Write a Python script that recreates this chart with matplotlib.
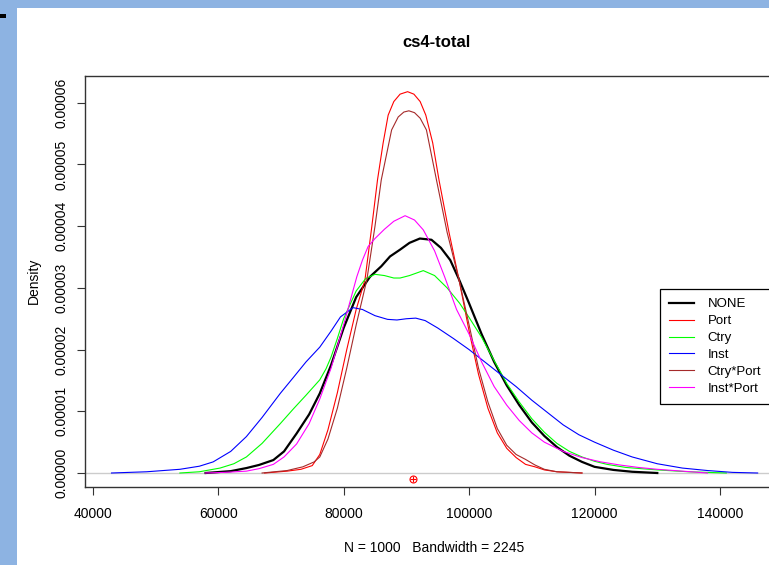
import matplotlib
matplotlib.use("Agg")
import matplotlib.pyplot as plt
from matplotlib.patches import Rectangle
import numpy as np

plt.rcParams['font.family'] = ['Liberation Sans', 'DejaVu Sans']

# density curves (x in units, y density * 1e6)
none_x = [58000, 62000, 64500, 66500, 68800, 70500, 72500, 74500, 76200, 78000, 80000, 82000,
          84200, 86000, 87400, 89000, 90500, 92150, 94000, 95500, 97000, 98300, 100000, 102000,
          104000, 106000, 108000, 110000, 112000, 114000, 116000, 118000, 120000, 123000, 126000, 130000]
none_y = [0, 0.3, 0.8, 1.3, 2.1, 3.5, 6.4, 9.5, 12.9, 17.5, 23.5, 28.5,
          31.8, 33.5, 35.1, 36.2, 37.3, 38.0, 37.8, 36.5, 34.5, 31.6, 27.5, 22.5,
          18.0, 14.2, 11.0, 8.2, 6.0, 4.2, 2.8, 1.8, 1.0, 0.5, 0.2, 0]

port_x = [67400, 71000, 73200, 75000, 76200, 77500, 79000, 80500, 82000, 83400, 84500, 85400,
          86300, 87100, 88000, 89000, 90200, 91200, 92200, 93100, 94200, 95200, 96800, 98400,
          100000, 101500, 103000, 104500, 106000, 107500, 109000, 110500, 112000, 114000, 118000]
port_y = [0, 0.3, 0.6, 1.2, 3.0, 7.0, 13.0, 20.0, 26.5, 31.3, 40.0, 47.5,
          53.5, 58.0, 60.2, 61.4, 61.8, 61.4, 60.2, 58.0, 53.5, 47.5, 39.0, 31.3,
          23.0, 16.0, 10.5, 6.5, 4.0, 2.5, 1.4, 1.0, 0.5, 0.2, 0]

ctry_x = [53900, 57000, 60300, 62500, 64500, 67000, 69900, 72000, 74000, 76200, 77200, 78000,
          79000, 80000, 82000, 83500, 85000, 86500, 88000, 89000, 90500, 92700, 94500, 96500,
          98500, 100000, 102000, 104000, 106000, 108000, 110000, 112000, 114000, 116000, 118000,
          120000, 122000, 125000, 130000, 135000, 141000]
ctry_y = [0, 0.2, 0.8, 1.5, 2.6, 4.8, 8.0, 10.4, 12.6, 15.1, 16.9, 18.8,
          21.8, 25.0, 29.5, 31.5, 32.2, 32.0, 31.6, 31.6, 32.0, 32.8, 32.0, 30.0,
          27.5, 25.2, 22.0, 18.2, 14.5, 11.5, 8.8, 6.6, 4.8, 3.5, 2.6,
          1.9, 1.4, 0.9, 0.5, 0.2, 0]

inst_x = [43000, 48600, 53900, 57000, 59200, 62000, 64500, 67000, 69900, 72000, 74000, 76200,
          78000, 79500, 81500, 83000, 85000, 87000, 88500, 90000, 91500, 93000, 95000, 97500,
          100000, 102500, 105000, 107500, 110000, 112500, 115000, 117500, 120000, 123000, 126000,
          130000, 134000, 138000, 142000, 146000]
inst_y = [0, 0.2, 0.6, 1.1, 1.8, 3.5, 5.9, 9.0, 12.9, 15.5, 18.0, 20.4,
          23.0, 25.3, 26.8, 26.5, 25.5, 24.9, 24.8, 25.0, 25.1, 24.7, 23.5, 21.8,
          20.0, 18.0, 16.0, 14.0, 11.8, 9.8, 7.8, 6.2, 5.0, 3.7, 2.6,
          1.5, 0.8, 0.4, 0.1, 0]

ctryport_x = [67000, 71000, 73500, 75300, 76200, 77500, 79000, 80500, 82000, 83700, 85000, 86000,
              87650, 88700, 89600, 90400, 91300, 92200, 93200, 94800, 96500, 98400, 100000, 101500,
              103000, 104500, 106000, 107500, 109000, 110500, 112000, 114000, 118000]
ctryport_y = [0, 0.4, 1.0, 1.8, 2.6, 5.5, 10.5, 17.0, 24.0, 31.3, 40.0, 47.5,
              55.6, 57.7, 58.5, 58.7, 58.4, 57.5, 55.6, 47.5, 39.0, 31.3, 24.0, 17.0,
              11.5, 7.2, 4.5, 3.0, 2.2, 1.3, 0.6, 0.2, 0]

instport_x = [58000, 61000, 64500, 66500, 68800, 70500, 72500, 74500, 76200, 78000, 80000, 82100,
              83000, 83900, 85000, 86500, 88000, 89800, 91300, 92700, 94500, 96100, 98000, 100000,
              102000, 104000, 106000, 108000, 110000, 112000, 115000, 118000, 121000, 124000,
              127000, 130000, 134000, 138000]
instport_y = [0, 0.1, 0.3, 0.7, 1.4, 2.6, 4.7, 8.0, 12.0, 17.0, 24.0, 31.8,
              34.5, 36.7, 38.0, 39.5, 40.8, 41.7, 41.0, 39.4, 36.0, 31.8, 26.5, 22.5,
              18.0, 14.0, 11.0, 8.5, 6.5, 5.0, 3.5, 2.5, 1.8, 1.3,
              0.9, 0.6, 0.3, 0]

series = [
    ("NONE", none_x, none_y, "black", 1.6),
    ("Port", port_x, port_y, "red", 0.8),
    ("Ctry", ctry_x, ctry_y, "#00ff00", 0.8),
    ("Inst", inst_x, inst_y, "blue", 0.8),
    ("Ctry*Port", ctryport_x, ctryport_y, "#a52a2a", 0.8),
    ("Inst*Port", instport_x, instport_y, "magenta", 0.8),
]

mean_x = 91100
mean_y = -1.0e-6

W, H = 769, 565
fig = plt.figure(figsize=(W / 100, H / 100), dpi=100)
fig.patch.set_facecolor("#8db3e2")
fig.add_artist(Rectangle((17 / W, 0), 1, (H - 8) / H, transform=fig.transFigure,
                         facecolor="white", edgecolor="none", zorder=-1))
fig.add_artist(Rectangle((0, 1 - 18 / H), 5.5 / W, 4 / H, transform=fig.transFigure,
                         facecolor="black", edgecolor="none", zorder=-1))

left, right, top, bottom = 85, 784, 75.7, 486.7
ax = fig.add_axes([left / W, (H - bottom) / H, (right - left) / W, (bottom - top) / H])

ax.axhline(0, color="#cccccc", lw=1.0, zorder=1)
for name, xs, ys, col, lw in series:
    ax.plot(xs, np.array(ys) * 1e-6, color=col, lw=lw, label=name, zorder=2)

ax.plot([mean_x], [mean_y], marker="o", ms=5, mfc="none", mec="red", mew=0.8, ls="none")
ax.plot([mean_x], [mean_y], marker="+", ms=5, mec="red", mew=0.8, ls="none")

ax.set_xlim(38773, 150200)
ax.set_ylim(-2.22e-6, 6.439e-5)
ax.set_xticks([40000, 60000, 80000, 100000, 120000, 140000])
ax.set_xticklabels(["40000", "60000", "80000", "100000", "120000", "140000"])
ax.set_yticks([0, 1e-5, 2e-5, 3e-5, 4e-5, 5e-5, 6e-5])
ax.set_yticklabels(["0.00000", "0.00001", "0.00002", "0.00003", "0.00004", "0.00005", "0.00006"],
                   rotation=90, va="center")
ax.tick_params(axis="both", length=5.8, width=0.8, labelsize=10, color="#333333")
ax.tick_params(axis="x", pad=9)
ax.tick_params(axis="y", pad=6)
for s in ax.spines.values():
    s.set_color("#333333")
    s.set_linewidth(1.0)

ax.set_ylabel("Density", fontsize=10, labelpad=10)
fig.text(434.5 / W, 1 - 548 / H, "N = 1000   Bandwidth = 2245", ha="center", va="center", fontsize=10)
fig.text(436.7 / W, 1 - 42.7 / H, "cs4-total", ha="center", va="center", fontsize=12,
         fontweight="bold")

leg = ax.legend(loc="upper left", bbox_to_anchor=(660 / W, 1 - 289 / H),
                bbox_transform=fig.transFigure, borderaxespad=0, fancybox=False,
                edgecolor="black", fontsize=9.5, handlelength=1.9, handletextpad=1.0,
                borderpad=0.7, labelspacing=0.35, framealpha=1)
leg.get_frame().set_linewidth(0.9)

plt.savefig("out.png", dpi=100)
